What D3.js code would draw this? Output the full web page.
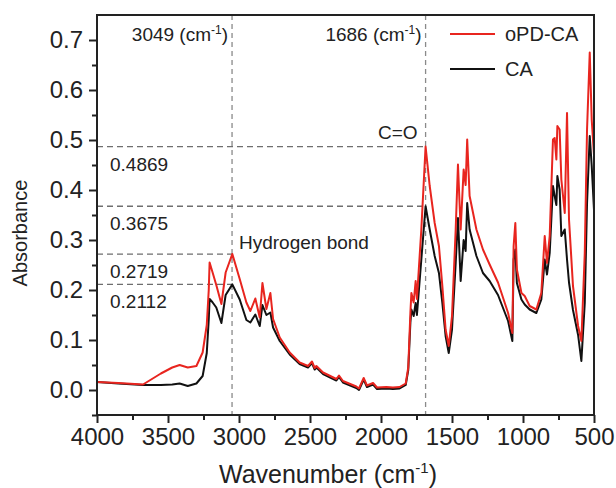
<!DOCTYPE html>
<html>
<head>
<meta charset="utf-8">
<script src="https://cdn.jsdelivr.net/npm/d3@7"></script>
<style>
  html, body { margin: 0; padding: 0; background: #fff; }
  svg { display: block; font-family: "Liberation Sans", Arial, Helvetica, sans-serif; }
</style>
</head>
<body>
<svg id="chart" width="616" height="488"></svg>
<script>
// ---- data ----
const wavenumbers = [4000, 3850, 3676, 3550, 3470, 3418, 3361, 3300, 3256, 3227, 3213, 3207, 3188, 3160, 3124, 3094, 3047, 2995, 2948, 2920, 2885, 2854, 2835, 2807, 2779, 2760, 2713, 2643, 2573, 2514, 2486, 2467, 2455, 2408, 2314, 2296, 2268, 2174, 2155, 2122, 2099, 2056, 2028, 1962, 1916, 1869, 1826, 1808, 1793, 1786, 1770, 1756, 1747, 1716, 1686, 1657, 1622, 1592, 1568, 1545, 1523, 1500, 1474, 1458, 1439, 1418, 1404, 1393, 1376, 1328, 1282, 1235, 1176, 1105, 1075, 1066, 1054, 1043, 1011, 988, 953, 906, 871, 847, 831, 812, 789, 777, 765, 758, 742, 730, 706, 690, 676, 648, 612, 589, 565, 549, 530, 516, 500];
const oPDCA = [0.016, 0.014, 0.011, 0.033, 0.045, 0.050, 0.045, 0.048, 0.075, 0.130, 0.200, 0.255, 0.237, 0.210, 0.172, 0.235, 0.272, 0.222, 0.175, 0.158, 0.183, 0.145, 0.214, 0.162, 0.194, 0.142, 0.105, 0.075, 0.055, 0.048, 0.057, 0.044, 0.048, 0.035, 0.022, 0.029, 0.018, 0.007, 0.003, 0.024, 0.009, 0.014, 0.005, 0.006, 0.005, 0.006, 0.013, 0.045, 0.155, 0.194, 0.175, 0.218, 0.182, 0.321, 0.4869, 0.408, 0.334, 0.288, 0.208, 0.121, 0.088, 0.148, 0.321, 0.451, 0.321, 0.441, 0.410, 0.501, 0.388, 0.321, 0.281, 0.251, 0.215, 0.154, 0.114, 0.288, 0.334, 0.241, 0.194, 0.188, 0.168, 0.161, 0.194, 0.308, 0.254, 0.308, 0.501, 0.504, 0.461, 0.528, 0.521, 0.421, 0.354, 0.554, 0.341, 0.208, 0.128, 0.098, 0.274, 0.521, 0.675, 0.540, 0.470];
const CA = [0.016, 0.013, 0.010, 0.010, 0.011, 0.013, 0.008, 0.013, 0.028, 0.074, 0.141, 0.182, 0.176, 0.165, 0.134, 0.190, 0.2112, 0.181, 0.140, 0.135, 0.151, 0.128, 0.170, 0.150, 0.155, 0.125, 0.098, 0.071, 0.052, 0.045, 0.054, 0.041, 0.045, 0.032, 0.019, 0.026, 0.015, 0.004, 0.000, 0.021, 0.006, 0.011, 0.002, 0.003, 0.002, 0.003, 0.010, 0.040, 0.135, 0.161, 0.148, 0.174, 0.150, 0.261, 0.3675, 0.321, 0.268, 0.234, 0.174, 0.108, 0.074, 0.121, 0.254, 0.344, 0.218, 0.300, 0.278, 0.374, 0.321, 0.268, 0.234, 0.218, 0.190, 0.138, 0.098, 0.261, 0.281, 0.214, 0.181, 0.171, 0.161, 0.154, 0.181, 0.261, 0.231, 0.274, 0.408, 0.388, 0.370, 0.428, 0.401, 0.308, 0.321, 0.261, 0.215, 0.160, 0.110, 0.058, 0.174, 0.374, 0.508, 0.448, 0.360];
const seriesNames = ["oPD-CA", "CA"];
const xTicks = [4000, 3500, 3000, 2500, 2000, 1500, 1000, 500];
const yTicks = [0.0, 0.1, 0.2, 0.3, 0.4, 0.5, 0.6, 0.7];
const markWavenumbers = [3049, 1686];
const markLabels = ["3049", "1686"];
const hLines = [0.4869, 0.3675, 0.2719, 0.2112];
const hLineEnds = [1686, 1686, 3049, 3049];
const hLabels = ["0.4869", "0.3675", "0.2719", "0.2112"];

// ---- layout ----
const svg = d3.select("#chart");
const L = 97, R = 594, T = 15, B = 415;
const x = d3.scaleLinear().domain([4000, 500]).range([L, R]);
const y = d3.scaleLinear().domain([-0.05, 0.75]).range([B, T]);
const colors = ["#e8251f", "#111111"];
const ink = "#222";

svg.append("rect").attr("width", 616).attr("height", 488).attr("fill", "#fff");

svg.append("clipPath").attr("id", "clip").append("rect")
  .attr("x", L).attr("y", T).attr("width", R - L).attr("height", B - T);

// dashed reference lines
const g = svg.append("g");
g.selectAll(".vl").data(markWavenumbers).enter().append("line")
  .attr("x1", d => x(d)).attr("x2", d => x(d)).attr("y1", T).attr("y2", B)
  .attr("stroke", "#8a8a8a").attr("stroke-width", 1.3).attr("stroke-dasharray", "5,4");
g.selectAll(".hl").data(hLines).enter().append("line")
  .attr("x1", L).attr("x2", (d, i) => x(hLineEnds[i]))
  .attr("y1", d => y(d)).attr("y2", d => y(d))
  .attr("stroke", "#6e6e6e").attr("stroke-width", 1.3).attr("stroke-dasharray", "6,4");

// spectra
const line = d3.line().x(d => x(d[0])).y(d => y(d[1]));
const series = [oPDCA, CA];
[1, 0].forEach(i => {
  svg.append("path")
    .datum(wavenumbers.map((w, k) => [w, series[i][k]]))
    .attr("d", line)
    .attr("fill", "none")
    .attr("stroke", colors[i])
    .attr("stroke-width", 2)
    .attr("stroke-linejoin", "round")
    .attr("clip-path", "url(#clip)");
});

// frame
svg.append("rect").attr("x", L).attr("y", T).attr("width", R - L).attr("height", B - T)
  .attr("fill", "none").attr("stroke", ink).attr("stroke-width", 2);

// axes
const xAxis = d3.axisBottom(x).tickValues(xTicks).tickFormat(d3.format("d")).tickSize(8).tickPadding(5);
const xMinor = d3.axisBottom(x).tickValues(d3.range(3750, 500, -500)).tickFormat("").tickSize(5);
const gx = svg.append("g").attr("transform", `translate(0,${B})`).call(xAxis);
const gxm = svg.append("g").attr("transform", `translate(0,${B})`).call(xMinor);
const yAxis = d3.axisLeft(y).tickValues(yTicks).tickFormat(d3.format(".1f")).tickSize(8).tickPadding(6);
const yMinor = d3.axisLeft(y).tickValues(d3.range(-0.05, 0.75, 0.1).map(v => +v.toFixed(2))).tickFormat("").tickSize(5);
const gy = svg.append("g").attr("transform", `translate(${L},0)`).call(yAxis);
const gym = svg.append("g").attr("transform", `translate(${L},0)`).call(yMinor);
[gx, gxm, gy, gym].forEach(a => {
  a.select(".domain").remove();
  a.selectAll("line").attr("stroke", ink).attr("stroke-width", 2);
  a.selectAll("text").attr("fill", ink).style("font-size", "24px").style("font-family", '"Liberation Sans", Arial, sans-serif');
});

// axis titles
svg.append("text").attr("transform", `translate(27,233) rotate(-90)`)
  .attr("text-anchor", "middle").attr("fill", ink).style("font-size", "20px").text("Absorbance");
const xt = svg.append("text").attr("x", 328).attr("y", 483).attr("text-anchor", "middle")
  .attr("fill", ink).style("font-size", "25px");
xt.append("tspan").text("Wavenumber (cm");
xt.append("tspan").attr("dy", -10).style("font-size", "15px").text("-1");
xt.append("tspan").attr("dy", 10).text(")");

// annotations
const aSize = "19px";
markWavenumbers.forEach((w, i) => {
  const t = svg.append("text").attr("x", x(w) - 4).attr("y", 41).attr("text-anchor", "end")
    .attr("fill", ink).style("font-size", aSize);
  t.append("tspan").text(markLabels[i] + " (cm");
  t.append("tspan").attr("dy", -7).style("font-size", "12px").text("-1");
  t.append("tspan").attr("dy", 7).text(")");
});
hLines.forEach((v, i) => {
  svg.append("text").attr("x", 110).attr("y", y(v) + 24).attr("fill", ink)
    .style("font-size", aSize).text(hLabels[i]);
});
svg.append("text").attr("x", x(1686) - 8).attr("y", 139).attr("text-anchor", "end")
  .attr("fill", ink).style("font-size", aSize).text("C=O");
svg.append("text").attr("x", 239).attr("y", 249)
  .attr("fill", ink).style("font-size", aSize).text("Hydrogen bond");

// legend
seriesNames.forEach((n, i) => {
  const ly = 34 + i * 35;
  svg.append("line").attr("x1", 450).attr("x2", 495).attr("y1", ly).attr("y2", ly)
    .attr("stroke", colors[i]).attr("stroke-width", 2);
  svg.append("text").attr("x", 505).attr("y", ly + 7).attr("fill", ink)
    .style("font-size", "20px").text(n);
});
</script>
</body>
</html>
